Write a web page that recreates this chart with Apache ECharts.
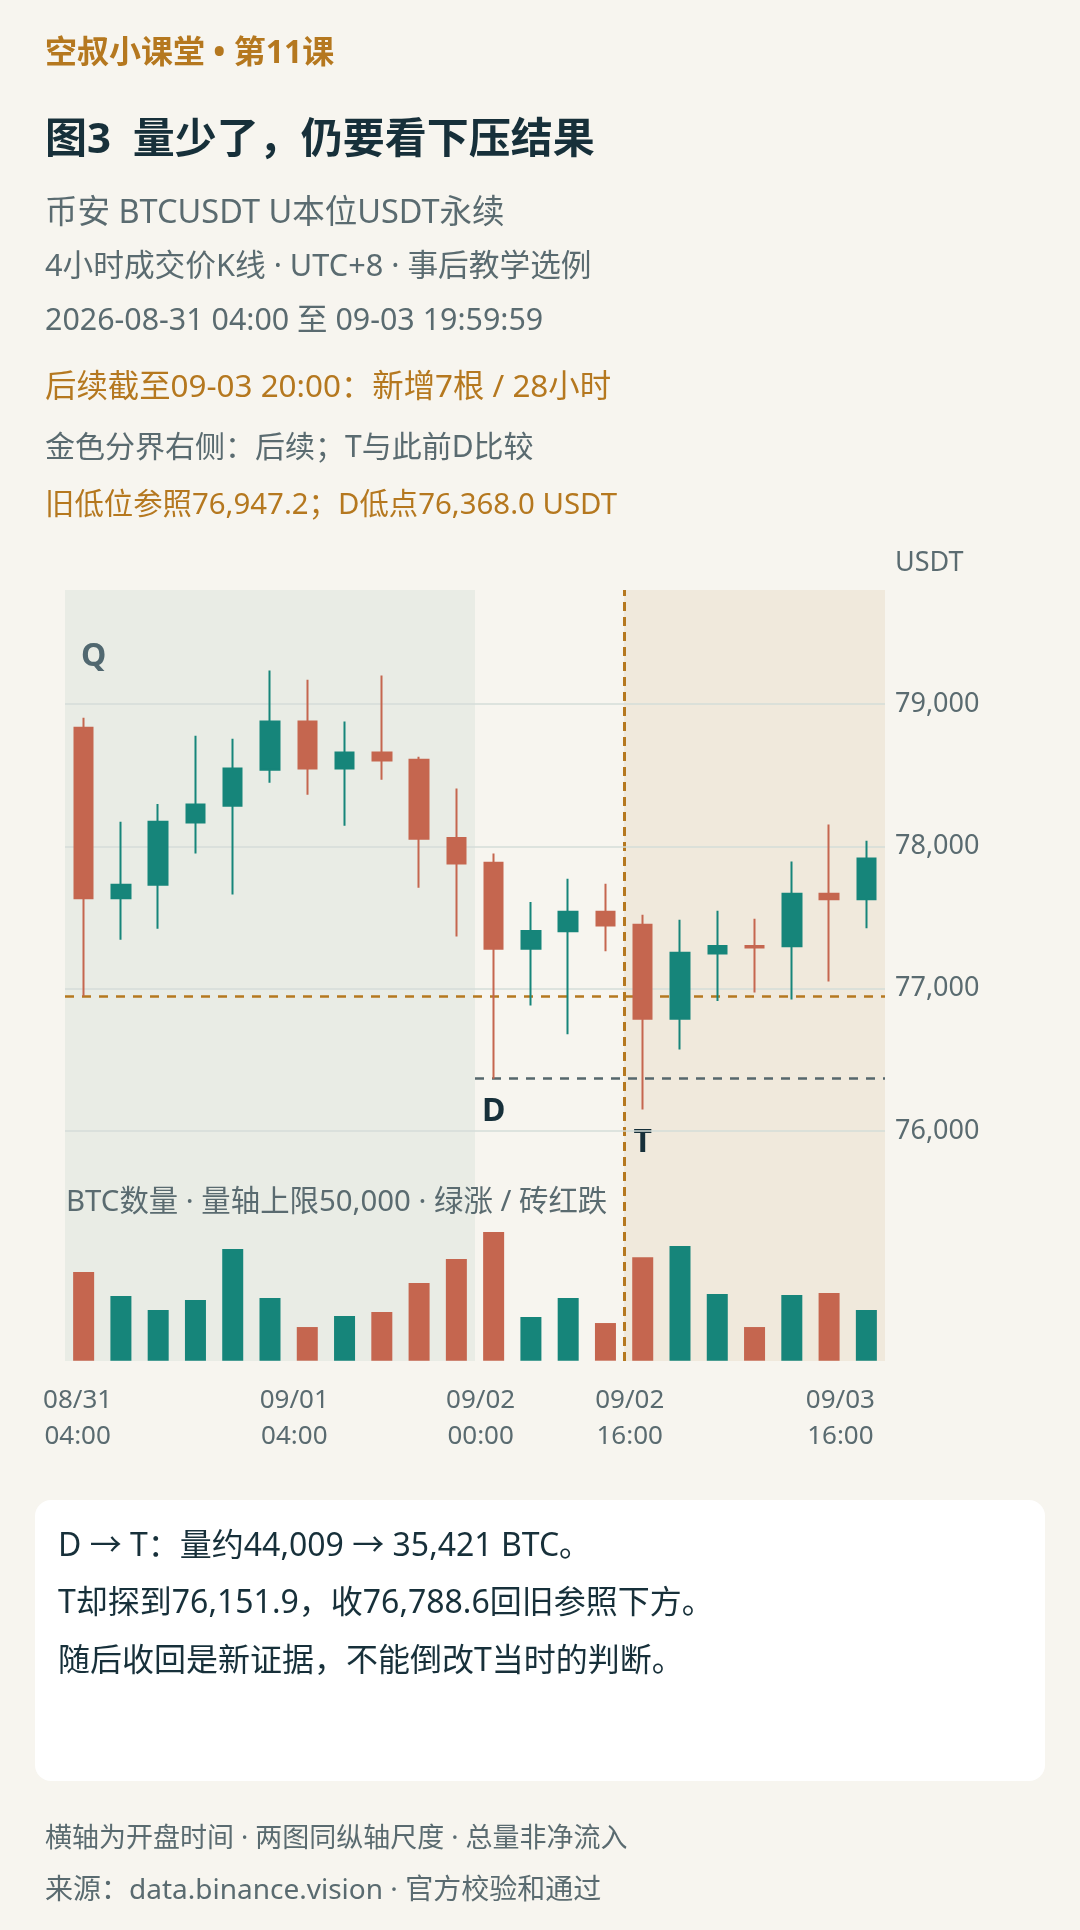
<!DOCTYPE html>
<html>
<head>
<meta charset="utf-8">
<script src="https://cdn.jsdelivr.net/npm/echarts@6/dist/echarts.min.js"></script>
<style>
  html, body { margin: 0; padding: 0; background: #F7F5EF; }
  #chart { width: 1080px; height: 1930px; }
</style>
</head>
<body>
<div id="chart"></div>
<script>
// 4h candles, 08/31 04:00 .. 09/03 16:00 (open time, UTC+8)
var categories = [
  '08/31 04:00', '08/31 08:00', '08/31 12:00', '08/31 16:00', '08/31 20:00',
  '09/01 00:00', '09/01 04:00', '09/01 08:00', '09/01 12:00', '09/01 16:00', '09/01 20:00',
  '09/02 00:00', '09/02 04:00', '09/02 08:00', '09/02 12:00', '09/02 16:00', '09/02 20:00',
  '09/03 00:00', '09/03 04:00', '09/03 08:00', '09/03 12:00', '09/03 16:00'
];
var opens  = [78833, 77635, 77730, 78167, 78285, 78538, 78876, 78546, 78659, 78608, 78059,
              77884, 77280, 77403, 77540, 77449, 76788.6, 77247, 77300, 77298, 77667, 77629];
var closes = [77635, 77731, 78172, 78293, 78546, 78876, 78546, 78659, 78602, 78054, 77879,
              77280, 77406, 77540, 77444, 76788.6, 77253, 77301, 77290, 77667, 77629, 77914];
var lows   = [76947.2, 77344, 77422, 77949, 77661, 78446, 78363, 78145, 78468, 77710, 77366,
              76368.0, 76882, 76680, 77264, 76151.9, 76573, 76914, 76973, 76925, 77051, 77425];
var highs  = [78903, 78172, 78298, 78777, 78755, 79234, 79169, 78876, 79199, 78629, 78406,
              77949, 77610, 77772, 77737, 77519, 77484, 77548, 77492, 77893, 78153, 78040];
var volumes = [30320, 22120, 17330, 20750, 38190, 21430, 11510, 15280, 16640, 26560, 34770,
               44009, 14930, 21430, 12880, 35421, 39220, 22800, 11510, 22460, 23140, 17330];
var labelIdx = [0, 6, 11, 15, 21];
var priceTicks = [76000, 77000, 78000, 79000];

var oldLow = 76947.2;
var dIndex = 11, tIndex = 15;
var qEnd = 11;          // Q zone covers the first 11 bars
var volMax = 50000;

var GREEN = '#16857A', RED = '#C5664F', GOLD = '#B5781F';
var GRAY = '#5A6B70', DARK = '#17303A';
var FONT = '"Noto Sans", "Noto Sans CJK SC", sans-serif';

var kdata = opens.map(function (o, i) { return [o, closes[i], lows[i], highs[i]]; });

function txt(x, y, text, size, color, weight) {
  return {
    type: 'text', x: x, y: y, z: 10,
    style: {
      text: text, fontSize: size, fontFamily: FONT, fontWeight: weight || 'normal',
      fill: color, verticalAlign: 'middle', align: 'left'
    }
  };
}

// x label nudges, first/last sit a bit differently in the source
function xLabel(v, i) {
  var key = i === 0 ? 'a' : (i === categories.length - 1 ? 'c' : 'b');
  return v.split(' ').map(function (s) { return '{' + key + '|' + s + '}'; }).join('\n');
}
var xRich = {
  a: {padding: [0, 12, 0, 0]},
  b: {padding: [0, 26, 0, 0]},
  c: {padding: [0, 52, 0, 0]}
};

var L = 65, R = 195;
var option = {
  backgroundColor: '#F7F5EF',
  animation: false,
  grid: [
    {left: L, right: R, top: 590, height: 626.6},
    {left: L, right: R, top: 1214.5, height: 146.2},
    {left: L, right: R, top: 590, height: 771},
    {left: L, right: R, top: 590, height: 626.6}
  ],
  xAxis: [
    {type: 'category', gridIndex: 0, data: categories, show: false},
    {
      type: 'category', gridIndex: 1, data: categories, zlevel: 1,
      axisLine: {show: false}, axisTick: {show: false},
      axisLabel: {
        interval: function (i) { return labelIdx.indexOf(i) >= 0; },
        formatter: xLabel, rich: xRich,
        color: GRAY, fontSize: 26, lineHeight: 36, fontFamily: FONT,
        margin: 22
      }
    },
    {type: 'value', gridIndex: 2, min: 0, max: categories.length, show: false},
    {type: 'value', gridIndex: 3, min: 0, max: categories.length, show: false}
  ],
  yAxis: [
    {
      type: 'value', gridIndex: 0, position: 'right', min: 75400, max: 79800, scale: true,
      zlevel: 1,
      name: 'USDT', nameLocation: 'end', nameGap: 27,
      nameTextStyle: {
        color: GRAY, fontSize: 27, fontFamily: FONT, align: 'left',
        verticalAlign: 'middle', padding: [0, 0, 0, 10]
      },
      axisLine: {show: false}, axisTick: {show: false},
      axisLabel: {
        color: GRAY, fontSize: 27, fontFamily: FONT, margin: 10,
        showMinLabel: false, showMaxLabel: false,
        formatter: function (v) { return priceTicks.indexOf(v) >= 0 ? v.toLocaleString('en-US') : ''; }
      },
      splitLine: {show: true, showMinLine: false, showMaxLine: false, lineStyle: {color: '#D5DDD8', width: 1.5}}
    },
    {type: 'value', gridIndex: 1, min: 0, max: volMax, show: false},
    {type: 'value', gridIndex: 2, min: 0, max: 1, show: false},
    {type: 'value', gridIndex: 3, min: 75400, max: 79800, show: false}
  ],
  series: [
    {
      // zone shading and the gold split line, on the bottom layer
      type: 'line', xAxisIndex: 2, yAxisIndex: 2, data: [], zlevel: 0, silent: true,
      markArea: {
        silent: true,
        data: [
          [{xAxis: 0, itemStyle: {color: '#E9ECE5'}}, {xAxis: qEnd}],
          [{xAxis: tIndex, itemStyle: {color: '#F0E9DC'}}, {xAxis: categories.length}]
        ]
      }
    },
    {
      type: 'line', xAxisIndex: 2, yAxisIndex: 2, data: [], zlevel: 1, z: 1, silent: true,
      markLine: {
        silent: true, symbol: 'none', label: {show: false},
        lineStyle: {color: GOLD, type: [9, 6], width: 3},
        data: [{xAxis: tIndex}]
      }
    },
    {
      type: 'candlestick', xAxisIndex: 0, yAxisIndex: 0, data: kdata,
      barWidth: 19, zlevel: 1, z: 3,
      itemStyle: {color: GREEN, color0: RED, borderColor: GREEN, borderColor0: RED, borderWidth: 2},
      markPoint: {
        symbol: 'rect', symbolSize: 1, itemStyle: {color: 'rgba(0,0,0,0)'},
        label: {show: true, position: 'inside', fontSize: 32, fontWeight: 'bold', fontFamily: FONT, color: DARK},
        data: [
          {coord: [categories[dIndex], lows[dIndex]], label: {formatter: 'D', offset: [0, 33]}},
          {coord: [categories[tIndex], lows[tIndex]], label: {formatter: 'T', offset: [0, 33]}},
          {coord: [categories[0], 79330], label: {formatter: 'Q', color: '#516870', offset: [10, 0]}}
        ]
      }
    },
    {
      type: 'line', xAxisIndex: 3, yAxisIndex: 3, data: [], zlevel: 1, z: 5, silent: true,
      markLine: {
        silent: true, symbol: 'none', label: {show: false},
        data: [
          [{coord: [0, oldLow], lineStyle: {color: GOLD, type: [9, 8], width: 2.5}},
           {coord: [categories.length, oldLow]}],
          [{coord: [dIndex, lows[dIndex]], lineStyle: {color: '#56676C', type: [9, 8], width: 2.5}},
           {coord: [categories.length, lows[dIndex]]}]
        ]
      }
    },
    {
      type: 'bar', xAxisIndex: 1, yAxisIndex: 1, data: volumes, barWidth: 21, zlevel: 1,
      itemStyle: {
        color: function (p) { return closes[p.dataIndex] >= opens[p.dataIndex] ? GREEN : RED; }
      }
    }
  ],
  graphic: [
    txt(45, 54, '空叔小课堂 • 第11课', 32, GOLD, 'bold'),
    txt(45, 141, '图3  量少了，仍要看下压结果', 42, DARK, 'bold'),
    txt(45, 214, '币安 BTCUSDT U本位USDT永续', 32.5, GRAY),
    txt(45, 267, '4小时成交价K线 · UTC+8 · 事后教学选例', 30.7, GRAY),
    txt(45, 321, '2026-08-31 04:00 至 09-03 19:59:59', 30.4, GRAY),
    txt(45, 388, '后续截至09-03 20:00：新增7根 / 28小时', 31.4, GOLD),
    txt(45, 448, '金色分界右侧：后续；T与此前D比较', 30, GRAY),
    txt(45, 506, '旧低位参照76,947.2；D低点76,368.0 USDT', 29.4, GOLD),
    txt(66, 1203, 'BTC数量 · 量轴上限50,000 · 绿涨 / 砖红跌', 29.4, GRAY),
    {
      type: 'rect', z: 1,
      shape: {x: 35, y: 1500, width: 1010, height: 281, r: 16},
      style: {fill: '#FFFFFF'}
    },
    txt(58, 1547, 'D → T：量约44,009 → 35,421 BTC。', 32, DARK),
    txt(58, 1604, 'T却探到76,151.9，收76,788.6回旧参照下方。', 32, DARK),
    txt(58, 1662, '随后收回是新证据，不能倒改T当时的判断。', 32, DARK),
    txt(45, 1839, '横轴为开盘时间 · 两图同纵轴尺度 · 总量非净流入', 27, GRAY),
    txt(45, 1891, '来源：data.binance.vision · 官方校验和通过', 28, GRAY)
  ]
};

echarts.init(document.getElementById('chart')).setOption(option);
</script>
</body>
</html>
